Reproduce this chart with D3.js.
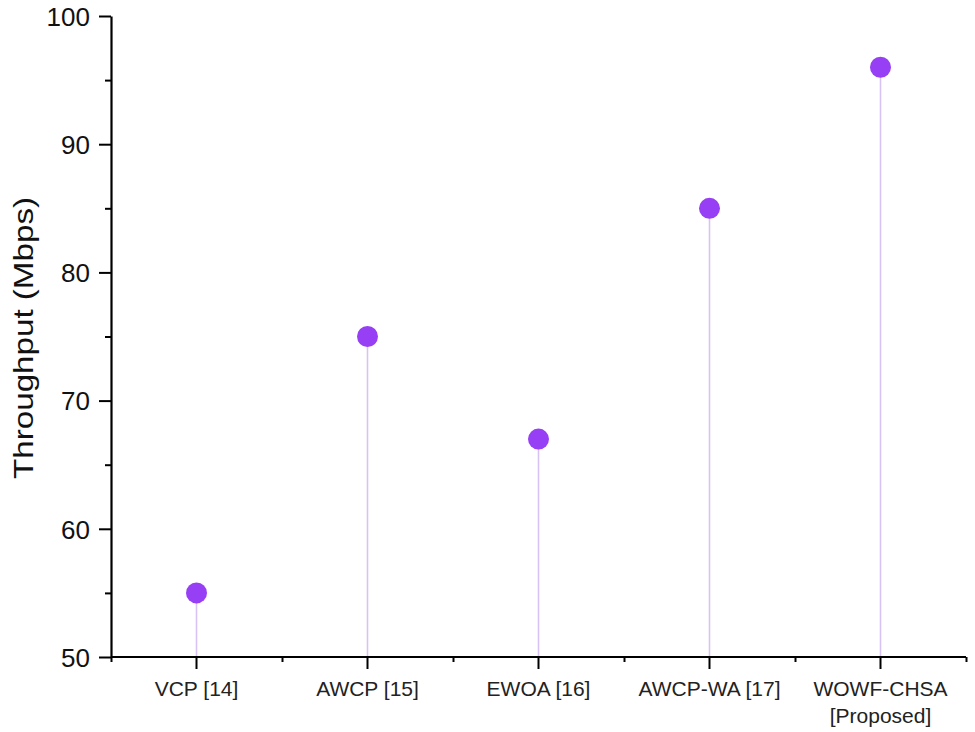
<!DOCTYPE html>
<html>
<head>
<meta charset="utf-8">
<script src="https://cdn.jsdelivr.net/npm/d3@7"></script>
<style>
  html, body { margin: 0; padding: 0; background: #fff; }
  svg { display: block; font-family: "Liberation Sans", Arial, sans-serif; }
</style>
</head>
<body>
<svg id="chart" width="975" height="732"></svg>
<script>
const categories = ["VCP [14]", "AWCP [15]", "EWOA [16]", "AWCP-WA [17]", "WOWF-CHSA\n[Proposed]"];
const throughput = [55, 75, 67, 85, 96];
const yMajorTicks = [50, 60, 70, 80, 90, 100];
const yMinorTicks = [55, 65, 75, 85, 95];
const yTitle = "Throughput (Mbps)";

(function () {
const svg = d3.select("#chart");
const mLeft = 111, mRight = 966, mTop = 16, mBottom = 657;

const x = d3.scaleBand().domain(categories).range([mLeft, mRight]).padding(0);
const xEdges = d3.scaleLinear().domain([0, categories.length]).range([mLeft, mRight]);
const y = d3.scaleLinear().domain([50, 100]).range([mBottom, mTop]);

// stems
svg.append("g").selectAll("line").data(categories).join("line")
  .attr("x1", d => x(d) + x.bandwidth() / 2)
  .attr("x2", d => x(d) + x.bandwidth() / 2)
  .attr("y1", y(50))
  .attr("y2", (d, i) => y(throughput[i]))
  .attr("stroke", "#d7c3f3")
  .attr("stroke-width", 1.6);

// dots
svg.append("g").selectAll("circle").data(categories).join("circle")
  .attr("cx", d => x(d) + x.bandwidth() / 2)
  .attr("cy", (d, i) => y(throughput[i]))
  .attr("r", 10.5)
  .attr("fill", "#963ff4");

// y axis minor
const yMinor = svg.append("g").attr("transform", `translate(${mLeft},0)`)
  .call(d3.axisLeft(y).tickValues(yMinorTicks).tickSize(6).tickFormat(""));
yMinor.select(".domain").remove();
yMinor.selectAll("line").attr("stroke", "#000").attr("stroke-width", 2);

// y axis major
const yAx = svg.append("g").attr("transform", `translate(${mLeft},0)`)
  .call(d3.axisLeft(y).tickValues(yMajorTicks).tickSize(12).tickPadding(9).tickSizeOuter(0));
yAx.select(".domain").attr("stroke", "#000").attr("stroke-width", 2.2);
yAx.selectAll(".tick line").attr("stroke", "#000").attr("stroke-width", 2);
yAx.selectAll(".tick text").attr("font-size", 26).attr("fill", "#111")
  .attr("font-family", "Liberation Sans, Arial, sans-serif").attr("dy", "0.36em");

// x axis minor (edge ticks)
const xMinor = svg.append("g").attr("transform", `translate(0,${mBottom})`)
  .call(d3.axisBottom(xEdges).ticks(categories.length).tickSize(5).tickFormat("").tickSizeOuter(0));
xMinor.select(".domain").remove();
xMinor.selectAll("line").attr("stroke", "#000").attr("stroke-width", 2);

// x axis major
const xAx = svg.append("g").attr("transform", `translate(0,${mBottom})`)
  .call(d3.axisBottom(x).tickSize(12).tickSizeOuter(0).tickFormat(""));
xAx.select(".domain").attr("stroke", "#000").attr("stroke-width", 2.2).attr("d", `M${mLeft},0H${mRight}`);
xAx.selectAll(".tick line").attr("stroke", "#000").attr("stroke-width", 2);

// x labels (multi-line)
xAx.selectAll(".tick").append("text")
  .attr("fill", "#222")
  .attr("font-size", 21)
  .attr("font-family", "Liberation Sans, Arial, sans-serif")
  .attr("text-anchor", "middle")
  .attr("y", 39)
  .each(function(d) {
    const lines = d.split("\n");
    d3.select(this).selectAll("tspan").data(lines).join("tspan")
      .attr("x", 0)
      .attr("dy", (l, i) => i === 0 ? 0 : 27)
      .text(l => l);
  });

// y title
svg.append("text")
  .attr("transform", `translate(33,338) rotate(-90)`)
  .attr("text-anchor", "middle")
  .attr("font-size", 28)
  .attr("fill", "#111")
  .attr("textLength", 282)
  .attr("lengthAdjust", "spacingAndGlyphs")
  .text(yTitle);
})();
</script>
</body>
</html>
